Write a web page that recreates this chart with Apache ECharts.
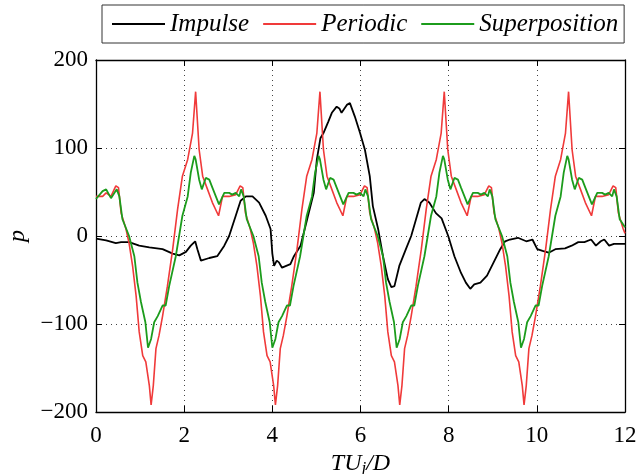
<!DOCTYPE html>
<html>
<head>
<meta charset="utf-8">
<script src="https://cdn.jsdelivr.net/npm/echarts@6/dist/echarts.min.js"></script>
<style>
html,body{margin:0;padding:0;background:#fff;}
#chart{width:641px;height:474px;}
</style>
</head>
<body>
<div id="chart"></div>
<script>
// ---- data ----
const seriesNames = ['Impulse', 'Periodic', 'Superposition'];
const xTicks = [0, 2, 4, 6, 8, 10, 12];
const yTicks = [-200, -100, 0, 100, 200];

const impulse = [
[0.00,-3],[0.23,-5],[0.45,-8],[0.57,-7],[0.75,-7],[0.98,-11],[1.21,-13],[1.51,-15],[1.74,-20],[1.89,-22],
[2.04,-18],[2.15,-11],[2.25,-6],[2.30,-15],[2.38,-28],[2.57,-25],[2.75,-23],[2.91,-11],[3.02,0],[3.17,23],
[3.28,40],[3.40,45],[3.55,45],[3.70,38],[3.85,23],[3.96,8],[4.00,-20],[4.04,-34],[4.10,-28],[4.15,-30],[4.22,-36],
[4.41,-32],[4.49,-23],[4.64,-11],[4.79,19],[4.94,49],[5.01,87],[5.09,111],[5.16,117],[5.27,130],[5.35,140],
[5.46,147],[5.52,145],[5.57,140],[5.69,149],[5.76,151],[5.87,136],[5.99,117],[6.10,98],[6.21,68],[6.28,34],[6.40,8],
[6.51,-23],[6.62,-49],[6.70,-58],[6.77,-57],[6.88,-34],[7.03,-15],[7.15,0],[7.26,19],[7.37,38],[7.45,42],
[7.56,38],[7.71,26],[7.84,20],[7.99,0],[8.13,-23],[8.28,-42],[8.39,-53],[8.49,-60],[8.58,-55],[8.72,-53],
[8.87,-45],[9.02,-30],[9.17,-15],[9.28,-6],[9.39,-4],[9.57,-2],[9.76,-6],[9.90,-4],[10.01,-15],[10.13,-17],
[10.27,-19],[10.42,-15],[10.64,-14],[10.79,-11],[10.94,-7],[11.08,-7],[11.23,-4],[11.34,-11],[11.45,-6],
[11.53,-4],[11.64,-11],[11.75,-9],[12.00,-9]
];

const periodic = [
[0.00,45],[0.15,45],[0.23,49],[0.34,45],
[0.45,57],[0.51,55],[0.57,26],[0.68,8],[0.75,-8],[0.83,-34],[0.91,-68],[0.98,-109],[1.06,-136],[1.13,-143],
[1.21,-170],[1.25,-192],[1.30,-170],[1.36,-128],[1.43,-113],[1.51,-91],[1.62,-57],[1.74,-15],[1.85,30],
[1.96,68],[2.08,87],[2.19,117],[2.26,164],[2.34,98],[2.42,68],[2.53,53],[2.64,38],[2.78,23],[2.87,45],
[3.02,45],[3.17,47],
[3.27,57],[3.33,55],[3.39,26],[3.50,8],[3.57,-8],[3.65,-34],[3.73,-68],[3.80,-109],[3.88,-136],[3.95,-143],
[4.03,-170],[4.07,-192],[4.12,-170],[4.18,-128],[4.25,-113],[4.33,-91],[4.44,-57],[4.56,-15],[4.67,30],
[4.78,68],[4.90,87],[5.01,117],[5.08,164],[5.16,98],[5.24,68],[5.35,53],[5.46,38],[5.60,23],[5.69,45],
[5.84,45],[5.99,47],
[6.09,57],[6.15,55],[6.21,26],[6.32,8],[6.39,-8],[6.47,-34],[6.55,-68],[6.62,-109],[6.70,-136],[6.77,-143],
[6.85,-170],[6.89,-192],[6.94,-170],[7.00,-128],[7.07,-113],[7.15,-91],[7.26,-57],[7.38,-15],[7.49,30],
[7.60,68],[7.72,87],[7.83,117],[7.90,164],[7.98,98],[8.06,68],[8.17,53],[8.28,38],[8.42,23],[8.51,45],
[8.66,45],[8.81,47],
[8.91,57],[8.97,55],[9.03,26],[9.14,8],[9.21,-8],[9.29,-34],[9.37,-68],[9.44,-109],[9.52,-136],[9.59,-143],
[9.67,-170],[9.71,-192],[9.76,-170],[9.82,-128],[9.89,-113],[9.97,-91],[10.08,-57],[10.20,-15],[10.31,30],
[10.42,68],[10.54,87],[10.65,117],[10.72,164],[10.80,98],[10.88,68],[10.99,53],[11.10,38],[11.24,23],
[11.33,45],[11.48,45],[11.63,47],[11.73,57],[11.79,55],[11.85,26],[11.96,8],[12.00,3]
];

const superposition = [
[0.00,42],[0.15,51],[0.23,53],[0.34,43],
[0.47,53],[0.53,45],[0.60,19],[0.75,0],[0.87,-23],[0.94,-53],[1.02,-75],[1.12,-98],[1.18,-127],[1.25,-117],
[1.32,-98],[1.40,-91],[1.51,-79],[1.58,-79],[1.66,-57],[1.81,-23],[1.96,23],[2.08,45],[2.15,72],[2.23,91],
[2.26,87],[2.34,64],[2.40,53],[2.49,66],[2.57,64],[2.64,55],[2.79,36],[2.91,49],[3.02,49],[3.09,47],
[3.17,49],[3.25,45],
[3.29,53],[3.35,45],[3.42,19],[3.57,0],[3.69,-23],[3.76,-53],[3.84,-75],[3.94,-98],[4.00,-127],[4.07,-117],
[4.14,-98],[4.22,-91],[4.33,-79],[4.40,-79],[4.48,-57],[4.63,-23],[4.78,23],[4.90,45],[4.97,72],[5.05,91],
[5.08,87],[5.16,64],[5.22,53],[5.31,66],[5.39,64],[5.46,55],[5.61,36],[5.73,49],[5.84,49],[5.91,47],
[5.99,49],[6.07,45],
[6.11,53],[6.17,45],[6.24,19],[6.39,0],[6.51,-23],[6.58,-53],[6.66,-75],[6.76,-98],[6.82,-127],[6.89,-117],
[6.96,-98],[7.04,-91],[7.15,-79],[7.22,-79],[7.30,-57],[7.45,-23],[7.60,23],[7.72,45],[7.79,72],[7.87,91],
[7.90,87],[7.98,64],[8.04,53],[8.13,66],[8.21,64],[8.28,55],[8.43,36],[8.55,49],[8.66,49],[8.73,47],
[8.81,49],[8.89,45],
[8.93,53],[8.99,45],[9.06,19],[9.21,0],[9.33,-23],[9.40,-53],[9.48,-75],[9.58,-98],[9.64,-127],[9.71,-117],
[9.78,-98],[9.86,-91],[9.97,-79],[10.04,-79],[10.12,-57],[10.27,-23],[10.42,23],[10.54,45],[10.61,72],
[10.69,91],[10.72,87],[10.80,64],[10.86,53],[10.95,66],[11.03,64],[11.10,55],[11.25,36],[11.37,49],
[11.48,49],[11.55,47],[11.63,49],[11.71,45],[11.75,53],[11.81,45],[11.88,19],[12.00,10]
];

// ---- chart ----
const FONT = 'Liberation Serif, Times New Roman, serif';
const chart = echarts.init(document.getElementById('chart'), null, {renderer: 'canvas'});
const minus = v => String(v).replace('-', '\u2212');
const gridStyle = {show: true, lineStyle: {color: '#444', width: 1, type: [1, 4]}};
const tickStyle = {show: true, inside: true, length: 6, lineStyle: {color: '#000', width: 1}};
const lineStyle = {color: '#000', width: 1.3};

chart.setOption({
  animation: false,
  backgroundColor: '#fff',
  grid: {left: 96, right: 16, top: 60, bottom: 62, containLabel: false, outerBoundsMode: 'none'},
  legend: {
    data: seriesNames,
    left: 102, top: 5,
    orient: 'horizontal',
    itemWidth: 53, itemHeight: 2, itemGap: 14,
    padding: [6, 6, 6, 10],
    borderColor: '#333', borderWidth: 1,
    backgroundColor: '#fff',
    icon: 'rect',
    textStyle: {fontFamily: FONT, fontStyle: 'italic', fontSize: 25, color: '#000', lineHeight: 26}
  },
  xAxis: [{
    type: 'value', min: 0, max: 12, interval: 2,
    position: 'bottom',
    axisLine: {show: true, onZero: false, lineStyle: lineStyle},
    axisTick: tickStyle,
    splitLine: gridStyle,
    axisLabel: {fontFamily: FONT, fontSize: 23, color: '#000', margin: 12, formatter: minus},
    name: '{i|TU}{s|j}{i|/D}',
    nameLocation: 'middle', nameGap: 33,
    nameTextStyle: {rich: {
      i: {fontFamily: FONT, fontStyle: 'italic', fontSize: 24, color: '#000'},
      s: {fontFamily: FONT, fontStyle: 'italic', fontSize: 17, color: '#000', padding: [10, 0, 0, 0]}
    }}
  }, {
    type: 'value', min: 0, max: 12, interval: 2,
    position: 'top',
    axisLine: {show: true, onZero: false, lineStyle: lineStyle},
    axisTick: tickStyle,
    axisLabel: {show: false},
    splitLine: {show: false}
  }],
  yAxis: [{
    type: 'value', min: -200, max: 200, interval: 100,
    position: 'left',
    axisLine: {show: true, onZero: false, lineStyle: lineStyle},
    axisTick: tickStyle,
    splitLine: gridStyle,
    axisLabel: {fontFamily: FONT, fontSize: 23, color: '#000', margin: 8, formatter: minus},
    name: 'p', nameLocation: 'middle', nameGap: 66, nameRotate: 90,
    nameTextStyle: {fontFamily: FONT, fontStyle: 'italic', fontSize: 24, color: '#000'}
  }, {
    type: 'value', min: -200, max: 200, interval: 100,
    position: 'right',
    axisLine: {show: true, onZero: false, lineStyle: lineStyle},
    axisTick: tickStyle,
    axisLabel: {show: false},
    splitLine: {show: false}
  }],
  series: [
    {name: 'Impulse', type: 'line', data: impulse, showSymbol: false,
     lineStyle: {color: '#000', width: 1.8}, itemStyle: {color: '#000'}},
    {name: 'Periodic', type: 'line', data: periodic, showSymbol: false,
     lineStyle: {color: '#f03a3a', width: 1.6}, itemStyle: {color: '#f03a3a'}},
    {name: 'Superposition', type: 'line', data: superposition, showSymbol: false,
     lineStyle: {color: '#1c9c1c', width: 1.8}, itemStyle: {color: '#1c9c1c'}}
  ]
});
</script>
</body>
</html>
